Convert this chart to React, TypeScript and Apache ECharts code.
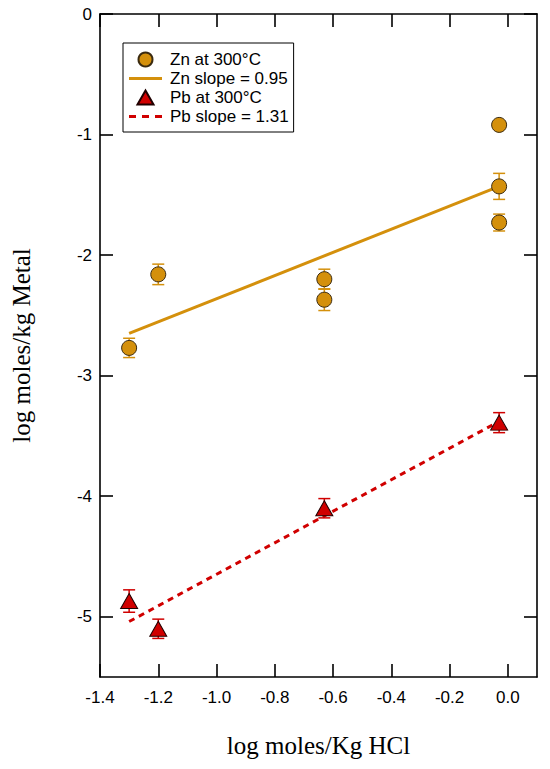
import React, { useEffect, useRef } from "react";
import * as echarts from "echarts";

const znX = [-1.3, -1.2, -0.63, -0.63, -0.03, -0.03, -0.03];
const znY = [-2.77, -2.16, -2.2, -2.37, -0.92, -1.43, -1.73];
const znErr = [0.08, 0.085, 0.083, 0.09, 0.03, 0.108, 0.07];

const pbX = [-1.3, -1.2, -0.63, -0.03];
const pbY = [-4.87, -5.1, -4.1, -3.39];
const pbErr = [0.093, 0.08, 0.08, 0.083];

const znFitX = [-1.3, -0.03];
const znFitY = [-2.65, -1.43];
const pbFitX = [-1.3, -0.03];
const pbFitY = [-5.04, -3.38];

const xTicks = [-1.4, -1.2, -1.0, -0.8, -0.6, -0.4, -0.2, 0.0];
const yTicks = [-5, -4, -3, -2, -1, 0];

const ZN = "#d4900c";
const PB = "#d00000";

const SOLID_ICON = "path://M0,0h33v3h-33z";
const DASH_ICON = "path://M0,0h7v3h-7zM13,0h7v3h-7zM26,0h7v3h-7z";
const TRI_ICON = "path://M8,0L16,14L0,14Z";

function errBar(color: string) {
  return (params: any, api: any) => {
    const x = api.value(0);
    const y = api.value(1);
    const e = api.value(2);
    const top = api.coord([x, y + e]);
    const bot = api.coord([x, y - e]);
    const hw = 6;
    const style = { stroke: color, lineWidth: 1.5 };
    return {
      type: "group",
      children: [
        { type: "line", shape: { x1: top[0], y1: top[1], x2: bot[0], y2: bot[1] }, style },
        { type: "line", shape: { x1: top[0] - hw, y1: top[1], x2: top[0] + hw, y2: top[1] }, style },
        { type: "line", shape: { x1: bot[0] - hw, y1: bot[1], x2: bot[0] + hw, y2: bot[1] }, style },
      ],
    };
  };
}

export default function App() {
  const ref = useRef<HTMLDivElement>(null);
  useEffect(() => {
    document.body.style.margin = "0";
    const chart = echarts.init(ref.current!, null, { renderer: "svg" });
    const axisLine = { show: true, onZero: false, lineStyle: { color: "#000", width: 1.6 } };
    const tickStyle = { color: "#000", width: 1.6 };
    const labelFont = { color: "#000", fontSize: 17, fontFamily: "Liberation Sans, Arial, sans-serif" };
    const titleFont = { color: "#000", fontSize: 25, fontFamily: "Liberation Serif, Times New Roman, serif" };
    chart.setOption({
      animation: false,
      backgroundColor: "#fff",
      grid: { left: 100, right: 13, top: 14, bottom: 92, containLabel: false },
      legend: {
        orient: "vertical",
        left: 123,
        top: 43,
        padding: [8, 5, 7, 6],
        itemGap: 2,
        itemWidth: 33,
        itemHeight: 14,
        borderColor: "#000",
        borderWidth: 1,
        backgroundColor: "#fff",
        symbolKeepAspect: true,
        textStyle: { ...labelFont, fontSize: 17, padding: [0, 0, 0, 3] },
        data: [
          { name: "Zn at 300°C", icon: "circle" },
          { name: "Zn slope = 0.95", icon: SOLID_ICON },
          { name: "Pb at 300°C", icon: TRI_ICON },
          { name: "Pb slope = 1.31", icon: DASH_ICON },
        ],
      },
      xAxis: [
        {
          type: "value",
          min: -1.4,
          max: 0.1,
          position: "bottom",
          name: "log moles/Kg HCl",
          nameLocation: "middle",
          nameGap: 56,
          nameTextStyle: titleFont,
          axisLine,
          axisTick: { show: true, inside: true, length: 13, lineStyle: tickStyle, customValues: xTicks },
          axisLabel: {
            show: true,
            margin: 12,
            ...labelFont,
            customValues: xTicks,
            formatter: (v: number) => v.toFixed(1),
          },
          splitLine: { show: false },
        },
        {
          type: "value",
          min: -1.4,
          max: 0.1,
          position: "top",
          axisLine,
          axisTick: { show: true, inside: true, length: 13, lineStyle: tickStyle, customValues: xTicks },
          axisLabel: { show: false },
          splitLine: { show: false },
        },
      ],
      yAxis: [
        {
          type: "value",
          min: -5.5,
          max: 0,
          position: "left",
          name: "log moles/kg Metal",
          nameLocation: "middle",
          nameGap: 66,
          nameTextStyle: titleFont,
          axisLine,
          axisTick: { show: true, inside: true, length: 13, lineStyle: tickStyle, customValues: yTicks },
          axisLabel: {
            show: true,
            margin: 8,
            ...labelFont,
            customValues: yTicks,
            formatter: (v: number) => String(Math.round(v)),
          },
          splitLine: { show: false },
        },
        {
          type: "value",
          min: -5.5,
          max: 0,
          position: "right",
          axisLine,
          axisTick: { show: true, inside: true, length: 13, lineStyle: tickStyle, customValues: yTicks },
          axisLabel: { show: false },
          splitLine: { show: false },
        },
      ],
      series: [
        {
          type: "custom",
          renderItem: errBar(ZN),
          data: znX.map((x, i) => [x, znY[i], znErr[i]]),
          encode: { x: 0, y: 1 },
          z: 1,
          silent: true,
        },
        {
          type: "custom",
          renderItem: errBar(PB),
          data: pbX.map((x, i) => [x, pbY[i], pbErr[i]]),
          encode: { x: 0, y: 1 },
          z: 1,
          silent: true,
        },
        {
          name: "Zn slope = 0.95",
          type: "line",
          data: znFitX.map((x, i) => [x, znFitY[i]]),
          symbol: "none",
          lineStyle: { color: ZN, width: 3 },
          itemStyle: { color: ZN, borderWidth: 0 },
          z: 2,
        },
        {
          name: "Pb slope = 1.31",
          type: "line",
          data: pbFitX.map((x, i) => [x, pbFitY[i]]),
          symbol: "none",
          lineStyle: { color: PB, width: 3, type: [6, 5] },
          itemStyle: { color: PB, borderWidth: 0 },
          z: 2,
        },
        {
          name: "Zn at 300°C",
          type: "scatter",
          data: znX.map((x, i) => [x, znY[i]]),
          symbol: "circle",
          symbolSize: 15,
          itemStyle: { color: ZN, borderColor: "#3a2a10", borderWidth: 1, opacity: 1 },
          z: 3,
        },
        {
          name: "Pb at 300°C",
          type: "scatter",
          data: pbX.map((x, i) => [x, pbY[i]]),
          symbol: "triangle",
          symbolSize: [17, 15],
          itemStyle: { color: PB, borderColor: "#200000", borderWidth: 1, opacity: 1 },
          z: 3,
        },
      ],
    });
    return () => chart.dispose();
  }, []);
  return <div ref={ref} style={{ width: 550, height: 769 }} />;
}
